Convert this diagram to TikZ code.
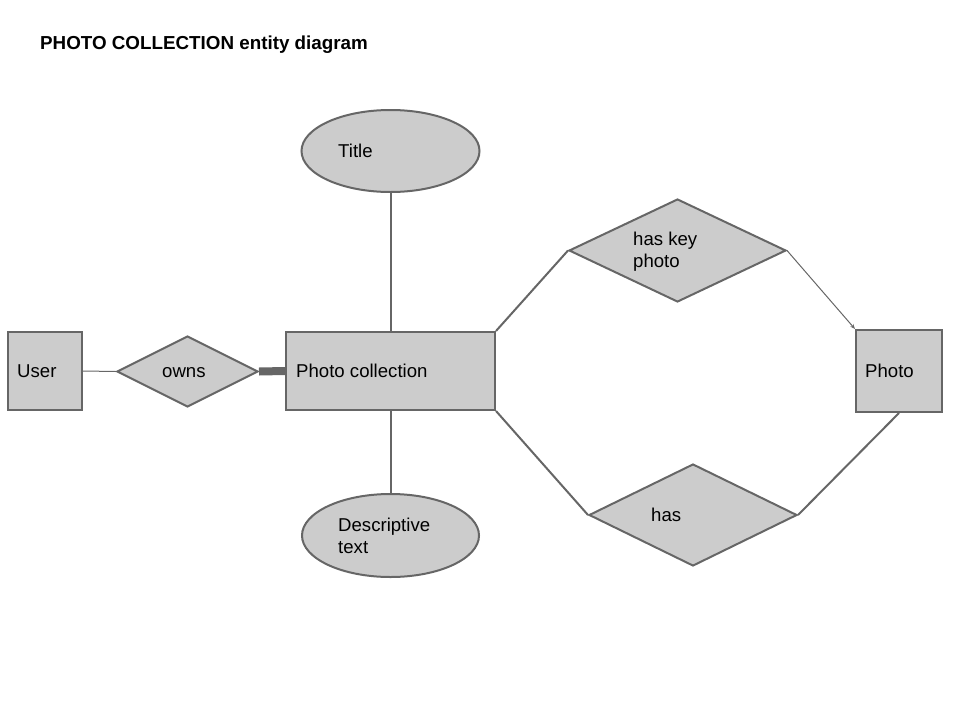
\documentclass[tikz,border=0pt]{standalone}
\usepackage{fontspec}
\setmainfont{Liberation Sans}
\usetikzlibrary{shapes.geometric,arrows.meta}
\definecolor{shfill}{HTML}{CCCCCC}
\definecolor{shline}{HTML}{666666}
\tikzset{
  ent/.style={draw=shline,fill=shfill,line width=2pt,inner sep=0pt},
  rel/.style={draw=shline,fill=shfill,line width=2pt,diamond,inner sep=0pt},
  attr/.style={draw=shline,fill=shfill,line width=2pt,ellipse,inner sep=0pt},
  txt/.style={anchor=west,inner sep=0pt,font=\fontsize{18.6}{22}\selectfont,align=left},
  conn/.style={draw=shline,line width=2pt},
  thin/.style={draw=shline,line width=1pt}
}
\begin{document}
\begin{tikzpicture}[x=1pt,y=-1pt]
\useasboundingbox (0,0) rectangle (960,720);
\node[anchor=west,inner sep=0pt,font=\fontsize{18.8}{22}\selectfont\bfseries] (title) at (40,45) {PHOTO COLLECTION entity diagram};
% entities
\node[ent,minimum width=74pt,minimum height=78pt] (user) at (45,371) {};
\node[ent,minimum width=209pt,minimum height=78pt] (pc) at (390.5,371) {};
\node[ent,minimum width=86pt,minimum height=82pt] (photo) at (899,371) {};
% relationships
\node[rel,minimum width=141pt,minimum height=71pt] (owns) at (187.5,371.5) {};
\node[rel,minimum width=217pt,minimum height=103pt] (haskey) at (677.5,250.5) {};
\node[rel,minimum width=208pt,minimum height=102pt] (has) at (693,515) {};
% attributes
\node[attr,minimum width=178pt,minimum height=82pt] (ttl) at (390.5,151) {};
\node[attr,minimum width=177pt,minimum height=83pt] (desc) at (390.5,535.5) {};
% texts
\node[txt] (tuser) at (17,371) {User};
\node[txt] (towns) at (162,372.5) {owns};
\node[txt] (tpc) at (296,371) {Photo collection};
\node[txt] (tphoto) at (865,371) {Photo};
\node[txt] (thk) at (633,252) {has key\\photo};
\node[txt] (thas) at (651,515) {has};
\node[txt] (tttl) at (338,151) {Title};
\node[txt] (tdesc) at (338,536) {Descriptive\\text};
% connectors
\draw[thin] (user.east) -- (owns.west);
\draw[draw=shline,line width=8pt] (owns.east) -- (pc.west);
\draw[conn] (ttl.south) -- (pc.north);
\draw[conn] (pc.south) -- (desc.north);
\draw[conn] (pc.north east) -- (haskey.west);
\draw[thin,-{Stealth[length=5pt,width=4pt]}] (haskey.east) -- (photo.north west);
\draw[conn] (pc.south east) -- (has.west);
\draw[conn] (has.east) -- (photo.south);
\end{tikzpicture}
\end{document}
